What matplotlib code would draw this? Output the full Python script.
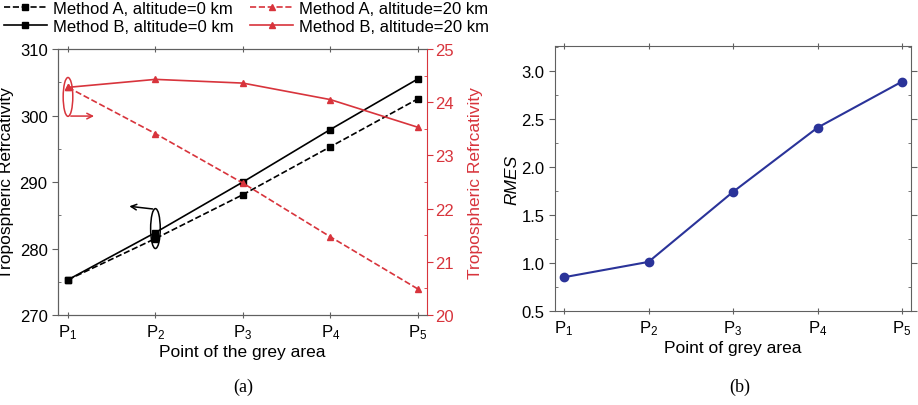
import matplotlib
matplotlib.use("Agg")
import matplotlib.pyplot as plt
from matplotlib.patches import Ellipse
from matplotlib.ticker import MultipleLocator
import numpy as np

plt.rcParams['font.family'] = ['Liberation Sans', 'DejaVu Sans']
plt.rcParams['mathtext.default'] = 'regular'

points = [1, 2, 3, 4, 5]
point_labels = ['$P_1$', '$P_2$', '$P_3$', '$P_4$', '$P_5$']

# panel (a): refractivity at altitude 0 km (left axis) and 20 km (right axis)
a_alt0 = [275.3, 281.5, 288.1, 295.3, 302.5]
b_alt0 = [275.3, 282.4, 290.0, 297.9, 305.5]
a_alt20 = [24.28, 23.41, 22.48, 21.47, 20.49]
b_alt20 = [24.28, 24.43, 24.36, 24.05, 23.53]

# panel (b): RMES per point
rmes = [0.85, 1.01, 1.74, 2.41, 2.89]

red = '#d8343c'
grey = '#606060'
blue = '#2a3399'

fig = plt.figure(figsize=(9.18, 4.06), dpi=100)

ax = fig.add_axes([0.0632, 0.2217, 0.402, 0.655])
ax2 = ax.twinx()

l1, = ax.plot(points, a_alt0, '--', color='black', marker='s', ms=4, lw=1.2)
l2, = ax.plot(points, b_alt0, '-', color='black', marker='s', ms=4, lw=1.2)
l3, = ax2.plot(points, a_alt20, '--', color=red, marker='^', ms=4.5, lw=1.2)
l4, = ax2.plot(points, b_alt20, '-', color=red, marker='^', ms=4.5, lw=1.2)

ax.set_xlim(0.886, 5.106)
ax.set_ylim(270, 310)
ax2.set_ylim(20, 25)
ax.set_xticks(points)
ax.set_xticklabels(point_labels)
ax.yaxis.set_major_locator(MultipleLocator(10))
ax.yaxis.set_minor_locator(MultipleLocator(5))
ax2.yaxis.set_major_locator(MultipleLocator(1))
ax2.yaxis.set_minor_locator(MultipleLocator(0.5))

ax.tick_params(axis='both', which='major', labelsize=12, direction='out', length=4, color=grey, top=True)
ax.tick_params(axis='x', which='major', top=True, direction='inout', length=4)
ax.tick_params(axis='y', which='minor', direction='in', length=2.5, color=grey)
ax2.tick_params(axis='y', which='major', labelsize=12, direction='out', length=4, pad=2, colors=red)
ax2.tick_params(axis='y', which='minor', direction='in', length=2.5, color=red)
for s in ['left', 'bottom', 'top']:
    ax.spines[s].set_color(grey)
    ax2.spines[s].set_color(grey)
ax.spines['right'].set_visible(False)
ax2.spines['right'].set_color(red)

ax.set_ylabel('Tropospheric Refrcativity', fontsize=12.5)
ax.yaxis.set_label_coords(-0.118, 0.5)
ax2.set_ylabel('Tropospheric Refrcativity', fontsize=12.5, color=red)
ax2.yaxis.set_label_coords(1.11, 0.5)
ax.set_xlabel('Point of the grey area', fontsize=12.5, labelpad=2)

# markers for which axis each group belongs to
e1 = Ellipse((points[0], 24.1), 0.11, 0.73, fill=False, ec=red, lw=1.1)
ax2.add_patch(e1)
ax2.annotate('', xy=(1.33, 23.74), xytext=(points[0], 23.74),
             arrowprops=dict(arrowstyle='->', color=red, lw=1.1))
e2 = Ellipse((points[1], 283), 0.11, 6, fill=False, ec='black', lw=1.1)
ax.add_patch(e2)
ax.annotate('', xy=(1.67, 286.4), xytext=(points[1], 285.9),
            arrowprops=dict(arrowstyle='->', color='black', lw=1.1))

fig.legend([l1, l2, l3, l4],
           ['Method A, altitude=0 km', 'Method B, altitude=0 km',
            'Method A, altitude=20 km', 'Method B, altitude=20 km'],
           ncol=2, loc='upper left', bbox_to_anchor=(-0.007, 1.02), frameon=False,
           fontsize=12, handlelength=2.6, handletextpad=0.35, columnspacing=1.0,
           labelspacing=0.2, borderaxespad=0.2)

# panel (b)
bx = fig.add_axes([0.6046, 0.232, 0.3878, 0.652])
bx.plot(points, rmes, '-', color=blue, marker='o', ms=6, lw=1.5)
bx.set_xlim(0.894, 5.106)
bx.set_ylim(0.5, 3.26)
bx.set_xticks(points)
bx.set_xticklabels(point_labels)
bx.yaxis.set_major_locator(MultipleLocator(0.5))
bx.yaxis.set_minor_locator(MultipleLocator(0.25))
bx.tick_params(axis='both', which='major', labelsize=12, direction='out', length=4, color=grey)
bx.tick_params(axis='x', which='major', top=True, direction='inout')
bx.tick_params(axis='y', which='both', right=True)
bx.tick_params(axis='y', which='minor', direction='in', length=2.5, color=grey)
for s in bx.spines.values():
    s.set_color(grey)
bx.set_ylabel('RMES', fontsize=12.5, style='italic')
bx.yaxis.set_label_coords(-0.1, 0.5)
bx.set_xlabel('Point of grey area', fontsize=12.5, labelpad=2)

fig.text(0.265, 0.035, '(a)', fontsize=13, family='Liberation Serif', ha='center')
fig.text(0.806, 0.035, '(b)', fontsize=13, family='Liberation Serif', ha='center')

fig.savefig('out.png', dpi=100)
